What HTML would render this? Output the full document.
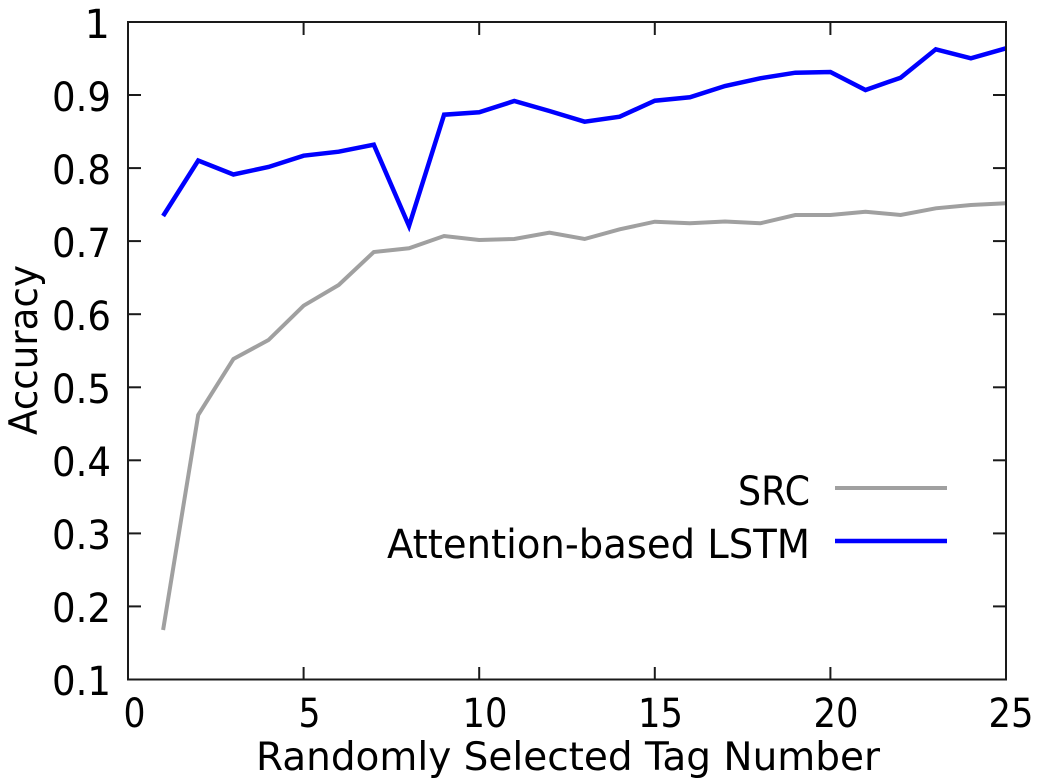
<!DOCTYPE html>
<html>
<head>
<meta charset="utf-8">
<style>
  html, body { margin: 0; padding: 0; background: #ffffff; }
  body { width: 1041px; height: 784px; overflow: hidden; }
  svg { display: block; }
  text { font-family: "DejaVu Sans", "Liberation Sans", sans-serif; fill: #000; }
</style>
</head>
<body>
<svg width="1041" height="784" viewBox="0 0 1041 784" xmlns="http://www.w3.org/2000/svg">
  <rect x="0" y="0" width="1041" height="784" fill="#ffffff"/>

  <!-- ticks -->
  <g stroke="#1a1a1a" stroke-width="2" fill="none">
    <!-- left y ticks -->
    <line x1="128" y1="606.4" x2="141" y2="606.4"/>
    <line x1="128" y1="533.4" x2="141" y2="533.4"/>
    <line x1="128" y1="460.3" x2="141" y2="460.3"/>
    <line x1="128" y1="387.3" x2="141" y2="387.3"/>
    <line x1="128" y1="314.2" x2="141" y2="314.2"/>
    <line x1="128" y1="241.1" x2="141" y2="241.1"/>
    <line x1="128" y1="168.1" x2="141" y2="168.1"/>
    <line x1="128" y1="95.0" x2="141" y2="95.0"/>
    <!-- right y ticks -->
    <line x1="993" y1="606.4" x2="1006" y2="606.4"/>
    <line x1="993" y1="533.4" x2="1006" y2="533.4"/>
    <line x1="993" y1="460.3" x2="1006" y2="460.3"/>
    <line x1="993" y1="387.3" x2="1006" y2="387.3"/>
    <line x1="993" y1="314.2" x2="1006" y2="314.2"/>
    <line x1="993" y1="241.1" x2="1006" y2="241.1"/>
    <line x1="993" y1="168.1" x2="1006" y2="168.1"/>
    <line x1="993" y1="95.0" x2="1006" y2="95.0"/>
    <!-- bottom x ticks -->
    <line x1="303.6" y1="679.5" x2="303.6" y2="667"/>
    <line x1="479.2" y1="679.5" x2="479.2" y2="667"/>
    <line x1="654.8" y1="679.5" x2="654.8" y2="667"/>
    <line x1="830.4" y1="679.5" x2="830.4" y2="667"/>
    <!-- top x ticks -->
    <line x1="303.6" y1="22" x2="303.6" y2="35"/>
    <line x1="479.2" y1="22" x2="479.2" y2="35"/>
    <line x1="654.8" y1="22" x2="654.8" y2="35"/>
    <line x1="830.4" y1="22" x2="830.4" y2="35"/>
  </g>

  <!-- series: SRC (gray) -->
  <polyline fill="none" stroke="#a0a0a0" stroke-width="4" stroke-linejoin="miter"
    points="163.1,630 198.2,415 233.4,359 268.5,340 303.6,305.7 338.7,285 373.8,252 409,248.3 444.1,236 479.2,240 514.3,239 549.4,232.7 584.6,239 619.7,229.3 654.8,221.7 689.9,223.3 725,221.5 760.2,223.3 795.3,215 830.4,215 865.5,211.7 900.6,215 935.8,208.3 970.9,205 1006,203.3"/>

  <!-- series: Attention-based LSTM (blue) -->
  <polyline fill="none" stroke="#0000ff" stroke-width="4.5" stroke-linejoin="miter"
    points="163.1,216 198.2,160.5 233.4,174.5 268.5,167 303.6,155.7 338.7,151.7 373.8,144.7 409,226 444.1,114.7 479.2,112.3 514.3,101 549.4,111 584.6,121.7 619.7,116.7 654.8,100.7 689.9,97.3 725,86 760.2,78.3 795.3,72.7 830.4,72 865.5,90 900.6,77.7 935.8,49.3 970.9,58.3 1006,48.3"/>

  <!-- frame -->
  <rect x="128" y="22" width="878" height="657.5" fill="none" stroke="#1a1a1a" stroke-width="2"/>

  <!-- y tick labels -->
  <g font-size="40" text-anchor="end">
    <text x="111" y="695" textLength="59" lengthAdjust="spacingAndGlyphs">0.1</text>
    <text x="111" y="622" textLength="59" lengthAdjust="spacingAndGlyphs">0.2</text>
    <text x="111" y="549" textLength="59" lengthAdjust="spacingAndGlyphs">0.3</text>
    <text x="111" y="476" textLength="59" lengthAdjust="spacingAndGlyphs">0.4</text>
    <text x="111" y="403" textLength="59" lengthAdjust="spacingAndGlyphs">0.5</text>
    <text x="111" y="330" textLength="59" lengthAdjust="spacingAndGlyphs">0.6</text>
    <text x="111" y="257" textLength="59" lengthAdjust="spacingAndGlyphs">0.7</text>
    <text x="111" y="184" textLength="59" lengthAdjust="spacingAndGlyphs">0.8</text>
    <text x="111" y="111" textLength="59" lengthAdjust="spacingAndGlyphs">0.9</text>
    <text x="110" y="38">1</text>
  </g>

  <!-- x tick labels -->
  <g font-size="40" text-anchor="middle">
    <text x="134.5" y="727" textLength="22" lengthAdjust="spacingAndGlyphs">0</text>
    <text x="309.5" y="727" textLength="22" lengthAdjust="spacingAndGlyphs">5</text>
    <text x="485" y="727" textLength="45" lengthAdjust="spacingAndGlyphs">10</text>
    <text x="660.5" y="727" textLength="45" lengthAdjust="spacingAndGlyphs">15</text>
    <text x="836" y="727" textLength="45" lengthAdjust="spacingAndGlyphs">20</text>
    <text x="1011" y="727" textLength="45" lengthAdjust="spacingAndGlyphs">25</text>
  </g>

  <!-- axis titles -->
  <text x="568" y="770" font-size="39" text-anchor="middle" textLength="624" lengthAdjust="spacingAndGlyphs">Randomly Selected Tag Number</text>
  <text transform="translate(37,350) rotate(-90)" x="0" y="0" font-size="39" text-anchor="middle" textLength="170" lengthAdjust="spacingAndGlyphs">Accuracy</text>

  <!-- legend -->
  <g font-size="40" text-anchor="end">
    <text x="810" y="505" textLength="72" lengthAdjust="spacingAndGlyphs">SRC</text>
    <text x="810" y="558" textLength="423" lengthAdjust="spacingAndGlyphs">Attention-based LSTM</text>
  </g>
  <line x1="835" y1="488" x2="947" y2="488" stroke="#a0a0a0" stroke-width="4"/>
  <line x1="835" y1="541" x2="947" y2="541" stroke="#0000ff" stroke-width="4.5"/>
</svg>
</body>
</html>
